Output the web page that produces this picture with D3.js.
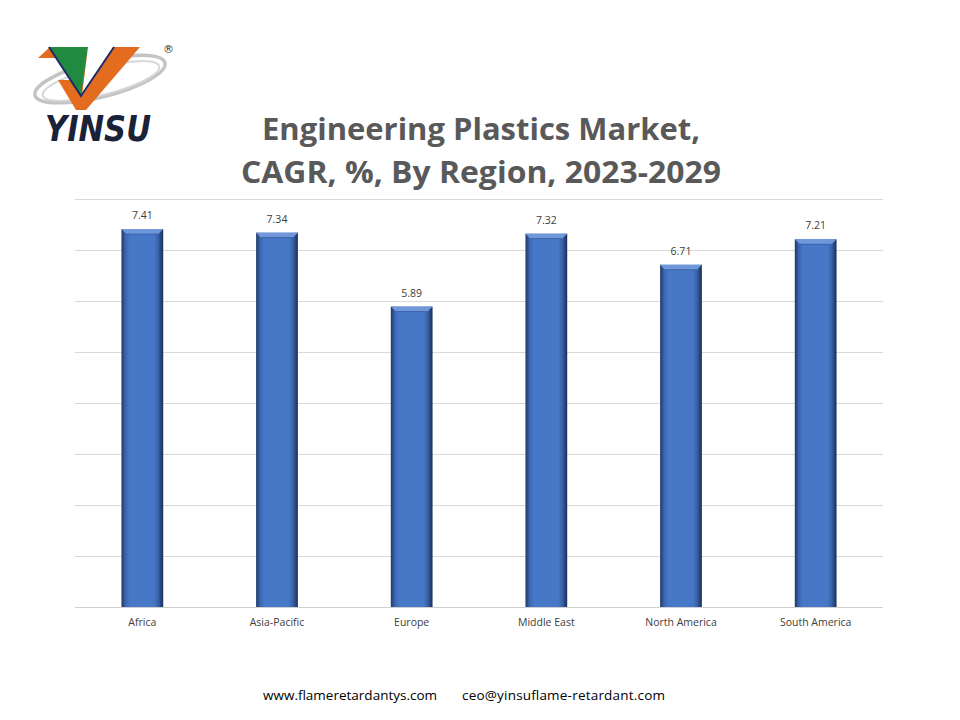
<!DOCTYPE html>
<html><head><meta charset="utf-8">
<script src="https://cdn.jsdelivr.net/npm/d3@7"></script>
<style>body{margin:0;background:#fff}svg{display:block}</style>
</head><body>
<svg id="c" width="960" height="720"></svg>
<script>
const categories = ["Africa","Asia-Pacific","Europe","Middle East","North America","South America"];
const values = [7.41,7.34,5.89,7.32,6.71,7.21];
const gridTicks = [0,1,2,3,4,5,6,7,8];
const titleLines = ["Engineering Plastics Market,","CAGR, %, By Region, 2023-2029"];
const footer = ["www.flameretardantys.com","ceo@yinsuflame-retardant.com"];

const svg = d3.select("#c");
const W=960,H=720;
svg.append("rect").attr("width",W).attr("height",H).attr("fill","#fff");

const defs = svg.append("defs");
const g1 = defs.append("linearGradient").attr("id","barG").attr("x1","0").attr("x2","1").attr("y1","0").attr("y2","0");
[[0,"#1f3868"],[0.1,"#3d66b0"],[0.2,"#4778c8"],[0.78,"#4778c8"],[0.88,"#3a62a8"],[1,"#182e58"]].forEach(([o,c])=>g1.append("stop").attr("offset",o).attr("stop-color",c));

const x = d3.scaleBand().domain(categories).range([75,883]).paddingInner(0.69).paddingOuter(0.345);
const y = d3.scaleLinear().domain([0,8]).range([607,199]);

// gridlines
svg.append("g").selectAll("line").data(gridTicks).join("line")
  .attr("x1",75).attr("x2",883).attr("y1",d=>Math.round(y(d))+0.5).attr("y2",d=>Math.round(y(d))+0.5)
  .attr("stroke",d=>d===0?"#d0d0d0":"#d9d9d9").attr("stroke-width",1);

// bars
const bars = svg.append("g").selectAll("g").data(values).join("g");
bars.append("rect")
  .attr("x",(d,i)=>x(categories[i])).attr("width",x.bandwidth())
  .attr("y",d=>y(d)).attr("height",d=>y(0)-y(d))
  .attr("fill","url(#barG)");
// top bevel
bars.append("path")
  .attr("d",(d,i)=>{const x0=x(categories[i]),w=x.bandwidth(),t=y(d);
    return `M${x0},${t} L${x0+w},${t} L${x0+w-5},${t+5} L${x0+5},${t+5} Z`;})
  .attr("fill","#6f97da");
bars.append("line")
  .attr("x1",(d,i)=>x(categories[i])+5).attr("x2",(d,i)=>x(categories[i])+x.bandwidth()-5)
  .attr("y1",d=>y(d)+5).attr("y2",d=>y(d)+5).attr("stroke","#3a62a8").attr("stroke-width",1);

// value labels
svg.append("g").selectAll("text").data(values).join("text")
  .attr("x",(d,i)=>x(categories[i])+x.bandwidth()/2).attr("y",d=>y(d)-10)
  .attr("text-anchor","middle").attr("font-family","Open Sans, sans-serif").attr("font-size",10.5)
  .attr("fill","#404040").text(d=>d.toFixed(2));

// category labels
svg.append("g").selectAll("text").data(categories).join("text")
  .attr("x",d=>x(d)+x.bandwidth()/2).attr("y",626)
  .attr("text-anchor","middle").attr("font-family","Open Sans, sans-serif").attr("font-size",10.5)
  .attr("fill","#404040").text(d=>d);

// title
const tlen=[438,480];
svg.append("g").selectAll("text").data(titleLines).join("text")
  .attr("x",(d,i)=>481-tlen[i]/2).attr("y",(d,i)=>140+i*43)
  .attr("textLength",(d,i)=>tlen[i]).attr("lengthAdjust","spacingAndGlyphs")
  .attr("font-family","Open Sans, sans-serif").attr("font-weight","bold")
  .attr("font-size",30).attr("fill","#595959").text(d=>d);

// footer
svg.append("text").attr("x",263).attr("y",700).attr("font-family","Open Sans, sans-serif").attr("font-size",13.5).attr("fill","#000").attr("textLength",174).text(footer[0]);
svg.append("text").attr("x",462).attr("y",700).attr("font-family","Open Sans, sans-serif").attr("font-size",13.5).attr("fill","#000").attr("textLength",203).text(footer[1]);

// logo
const logo = svg.append("g");
logo.append("ellipse").attr("cx",100).attr("cy",79).attr("rx",67).attr("ry",18).attr("fill","none").attr("stroke","#c4c4c4").attr("stroke-width",3.5).attr("transform","rotate(-14,100,79)");
logo.append("ellipse").attr("cx",101).attr("cy",81).attr("rx",60).attr("ry",14).attr("fill","none").attr("stroke","#d6d6d6").attr("stroke-width",2).attr("transform","rotate(-14,101,81)");
logo.append("path").attr("d","M38,58 L50,47 L140,47 L86,110 L76,110 L58,80 L70,80 L56,58 Z").attr("fill","#e36c1f");
logo.append("path").attr("d","M50,47 L88,47 L81,95 Z").attr("fill","#1f8a40");
logo.append("path").attr("d","M88,47 L114,47 L82,96 Z").attr("fill","#fff");
logo.append("path").attr("d","M49,47 L81,96 L114,47").attr("fill","none").attr("stroke","#1a2a6a").attr("stroke-width",2);
logo.append("text").attr("x",45).attr("y",141).attr("font-family","DejaVu Sans, sans-serif").attr("font-weight","bold").attr("font-style","italic").attr("font-size",36).attr("fill","#1a2238").attr("textLength",106).attr("lengthAdjust","spacingAndGlyphs").text("YINSU");
logo.append("text").attr("x",163).attr("y",53).attr("font-family","DejaVu Sans, sans-serif").attr("font-size",11).attr("fill","#333").text("®");
</script>
</body></html>
